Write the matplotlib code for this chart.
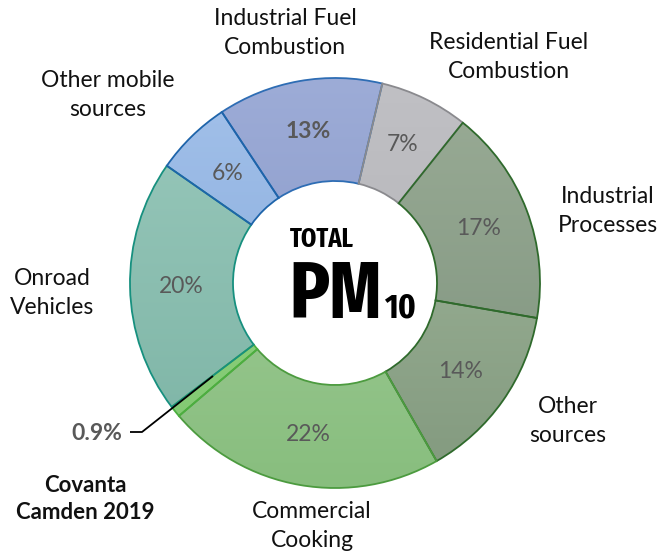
import numpy as np
import matplotlib
matplotlib.use("Agg")
import matplotlib.pyplot as plt
from matplotlib.colors import LinearSegmentedColormap
from matplotlib import font_manager
from matplotlib.font_manager import FontProperties

# ---------------- data ----------------
categories = ["Industrial Fuel\nCombustion", "Residential Fuel\nCombustion",
              "Industrial\nProcesses", "Other\nsources", "Commercial\nCooking",
              "Covanta\nCamden 2019", "Onroad\nVehicles", "Other mobile\nsources"]
values = [13, 7, 17, 14, 22, 0.9, 20, 6]
pct_labels = ["13%", "7%", "17%", "14%", "22%", "0.9%", "20%", "6%"]
center_title = ["TOTAL", "PM", "10"]

# ---------------- style ----------------
top_colors = ["#9DACD7", "#C0C0C4", "#9AAC96", "#A4BA9F", "#A8CFA0", "#95D585", "#9AC9BC", "#A3C1EA"]
bot_colors = ["#8191C2", "#AFAFB3", "#7C917C", "#82997E", "#88BE7E", "#80C870", "#7BB3A4", "#7FA5D8"]
edge_colors = ["#2E6DB4", "#8A8A8E", "#2F6A2C", "#2F6A2C", "#4C9B3F", "#4CAF3F", "#17907F", "#1E64AA"]
bold_pct = [True, False, False, False, False, True, False, False]

W, H = 662, 556
fig = plt.figure(figsize=(W / 100, H / 100), dpi=100)
ax = fig.add_axes([0, 0, 1, 1])

cx, cy = 335, H - 283
R = 205
ring = 103

def fy(py):
    return H - py

wedges, _ = ax.pie(values, startangle=123.5, counterclock=False, center=(cx, cy), radius=R,
                   wedgeprops=dict(width=ring, linewidth=1.3), frame=True)
ax.set_xlim(0, W)
ax.set_ylim(0, H)
ax.set_aspect("auto")
ax.axis("off")

grad = np.linspace(1, 0, 256).reshape(-1, 1)
for i, w in enumerate(wedges):
    w.set_facecolor("none")
    w.set_edgecolor(edge_colors[i])
    w.set_zorder(3)
    cmap = LinearSegmentedColormap.from_list("g%d" % i, [bot_colors[i], top_colors[i]])
    im = ax.imshow(grad, cmap=cmap, extent=[cx - R, cx + R, cy - R, cy + R],
                   origin="upper", aspect="auto", zorder=2,
                   interpolation="bilinear", vmin=0, vmax=1)
    im.set_clip_path(w)

ax.set_xlim(0, W)
ax.set_ylim(0, H)

label_font = ["Lato", "DejaVu Sans"]
pct_color = "#595959"
r_mid = R - ring / 2
for i, w in enumerate(wedges):
    if categories[i].startswith("Covanta"):
        continue
    ang = np.deg2rad((w.theta1 + w.theta2) / 2)
    x = cx + r_mid * np.cos(ang)
    y = cy + r_mid * np.sin(ang)
    ax.text(x, y, pct_labels[i], ha="center", va="center", fontsize=16.5,
            color=pct_color, family=label_font,
            fontweight="bold" if bold_pct[i] else "normal", zorder=5)

label_pos = {
    0: (285, 33), 1: (509, 57), 2: (608, 211), 3: (568, 421),
    4: (312, 526), 6: (52, 293), 7: (108, 95),
}
for i, (px, py) in label_pos.items():
    ax.text(px, fy(py), categories[i], ha="center", va="center", fontsize=16.5,
            color="#111111", family=label_font, linespacing=1.42, zorder=5)

ax.text(85, fy(499), categories[5], ha="center", va="center", fontsize=16,
        color="#111111", family=label_font, fontweight="bold", linespacing=1.4, zorder=5)
ax.text(122, fy(433), pct_labels[5], ha="right", va="center", fontsize=16.5,
        color=pct_color, family=label_font, fontweight="bold", zorder=5)
ax.plot([213, 142, 130], [fy(376), fy(432), fy(432)], color="black", lw=1.3, zorder=6,
        solid_capstyle="butt")

# ---------- center title with a condensed bold font if available ----------
def pick_condensed():
    best, best_score = None, -1
    for f in font_manager.fontManager.ttflist:
        n = (f.fname.split("/")[-1]).lower()
        if "extracondensed" in n:
            score = 5
        elif "semicondensed" in n:
            score = 2
        elif "condensed" in n or "narrow" in n:
            score = 4
        else:
            continue
        if "italic" in n or "oblique" in n:
            continue
        if "extrabold" in n or "black" in n:
            score += 0.5
        elif "bold" in n and "semibold" not in n:
            score += 1.5
        elif "semibold" in n:
            score += 0.8
        else:
            continue
        if score > best_score:
            best, best_score = f.fname, score
    return best

cond = pick_condensed()
if cond:
    base_fp = FontProperties(fname=cond)
else:
    base_fp = FontProperties(family="DejaVu Sans", weight="bold")

fig.canvas.draw()
renderer = fig.canvas.get_renderer()

def fit_text(s, x0, x1, ytop, ybot):
    size = (ybot - ytop) * 1.0
    fp = base_fp.copy()
    fp.set_size(size)
    t = ax.text(x0, fy(ybot), s, ha="left", va="baseline", fontproperties=fp,
                color="black", zorder=5)
    bb = t.get_window_extent(renderer)
    target = x1 - x0
    if bb.width > target:
        fp2 = base_fp.copy()
        fp2.set_size(size * target / bb.width)
        t.set_fontproperties(fp2)
    return t

fit_text(center_title[0], 290, 354, 225, 247)
fit_text(center_title[1], 289, 382, 258, 318)
fit_text(center_title[2], 384, 416, 292, 318)

fig.savefig("out.png", dpi=100)
